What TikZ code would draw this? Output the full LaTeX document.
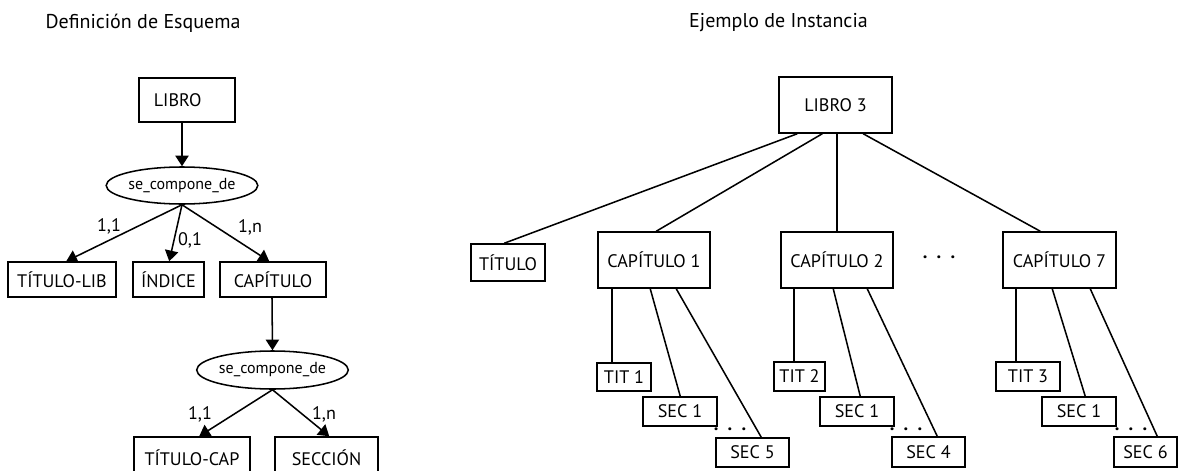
\documentclass[tikz,border=0pt]{standalone}
\usepackage{fontspec}
\setmainfont{PT Sans}
\usetikzlibrary{arrows.meta,shapes.geometric}
\newcommand\pxu{0.75pt}
\tikzset{
  box/.style={draw, line width=1.15pt, inner sep=0pt, font=\fontsize{13.6}{15}\selectfont},
  rel/.style={draw, ellipse, line width=1.15pt, inner sep=0pt, font=\fontsize{12}{13}\selectfont},
  lbl/.style={inner sep=0pt, font=\fontsize{13.6}{15}\selectfont},
  ttl/.style={inner sep=0pt, font=\fontsize{15}{17}\selectfont},
  dots/.style={inner sep=0pt, font=\fontsize{14}{15}\selectfont\bfseries},
  arr/.style={line width=1.15pt, -{Triangle[length=8pt,width=10pt]}},
  con/.style={line width=1.15pt},
}
% [opts]{x1}{y1}{x2}{y2}{name}{text}
\newcommand\bx[7][]{\node[box,#1,minimum width={(#4-#2)*\pxu},minimum height={(#5-#3)*\pxu}] (#6) at ({(#2+#4)/2},{(#3+#5)/2}) {#7};}
\newcommand\dd{.\hspace{7pt}.\hspace{7pt}.}
\begin{document}
\begin{tikzpicture}[x=0.75pt,y=-0.75pt]
\clip (0,0) rectangle (1178,471);
% titles
\node[ttl] (t1) at (143,23) {Definición de Esquema};
\node[ttl] (t2) at (778.5,23) {Ejemplo de Instancia};

% ---------- schema ----------
\bx{139}{78}{235}{122}{libro}{\hspace*{-14pt}LIBRO}
\node[rel,minimum width={150*\pxu},minimum height={37*\pxu}] (e1) at (182,185.5) {se\_compone\_de};
\bx{8}{262}{116}{297}{tlib}{TÍTULO-LIB}
\bx{133}{262}{204}{297}{ind}{ÍNDICE}
\bx{220}{262}{326}{297}{cap}{CAPÍTULO}
\node[rel,minimum width={149*\pxu},minimum height={38*\pxu}] (e2) at (272.5,370) {se\_compone\_de};
\bx{134}{437}{250}{478}{tcap}{TÍTULO-CAP}
\bx{275}{437}{378}{478}{sec}{SECCIÓN}

\draw[arr] ([xshift=-5*\pxu]libro.south) -- (e1.north);
\draw[arr] (e1.south) -- ([xshift=59*\pxu]tlib.north west);
\draw[arr] (e1.south) -- ([xshift=37*\pxu]ind.north west);
\draw[arr] (e1.south) -- ([xshift=50*\pxu]cap.north west);
\draw[arr] ([xshift=-1*\pxu]cap.south) -- (e2.north);
\draw[arr] (e2.south) -- ([xshift=66*\pxu]tcap.north west);
\draw[arr] (e2.south) -- ([xshift=55*\pxu]sec.north west);

\node[lbl] (c1) at (109,226) {1,1};
\node[lbl] (c2) at (190,240) {0,1};
\node[lbl] (c3) at (250,227) {1,n};
\node[lbl] (c4) at (200,414) {1,1};
\node[lbl] (c5) at (324,414) {1,n};

% ---------- instance ----------
\bx{779}{77}{892}{133}{l3}{LIBRO 3}
\bx{471}{244}{545}{281}{tit}{TÍTULO}
\bx{598}{232}{710}{288}{cp1}{CAPÍTULO 1}
\bx{781}{232}{893}{288}{cp2}{CAPÍTULO 2}
\bx{1003}{232}{1116}{288}{cp7}{CAPÍTULO 7}
\node[dots] (d0) at (939,257) {\dd};

\bx{597}{363}{651}{391}{ti1}{TIT 1}
\bx{643}{397}{717}{426}{sa1}{SEC 1}
\bx{716}{438}{789}{467}{s5}{SEC 5}
\bx{774}{362}{825}{391}{ti2}{TIT 2}
\bx{820}{397}{894}{426}{sb1}{SEC 1}
\bx{892}{437}{965}{467}{s4}{SEC 4}
\bx{996}{362}{1060}{391}{ti3}{TIT 3}
\bx{1042}{397}{1116}{426}{sc1}{SEC 1}
\bx{1114}{437}{1177}{467}{s6}{SEC 6}
\node[dots] (d1) at (730,429) {\dd};
\node[dots] (d2) at (906,429) {\dd};
\node[dots] (d3) at (1131,429) {\dd};

\draw[con] ([xshift=19*\pxu]l3.south west) -- ([xshift=34*\pxu]tit.north west);
\draw[con] ([xshift=44*\pxu]l3.south west) -- ([xshift=59*\pxu]cp1.north west);
\draw[con] ([xshift=59*\pxu]l3.south west) -- ([xshift=57*\pxu]cp2.north west);
\draw[con] ([xshift=85*\pxu]l3.south west) -- ([xshift=38*\pxu]cp7.north west);

\draw[con] ([xshift=14.5*\pxu]cp1.south west) -- ([xshift=15.5*\pxu]ti1.north west);
\draw[con] ([xshift=53*\pxu]cp1.south west) -- ([xshift=38*\pxu]sa1.north west);
\draw[con] ([xshift=79*\pxu]cp1.south west) -- ([xshift=46*\pxu]s5.north west);
\draw[con] ([xshift=14*\pxu]cp2.south west) -- ([xshift=21*\pxu]ti2.north west);
\draw[con] ([xshift=53*\pxu]cp2.south west) -- ([xshift=41*\pxu]sb1.north west);
\draw[con] ([xshift=87*\pxu]cp2.south west) -- ([xshift=46*\pxu]s4.north west);
\draw[con] ([xshift=14*\pxu]cp7.south west) -- ([xshift=21*\pxu]ti3.north west);
\draw[con] ([xshift=50*\pxu]cp7.south west) -- ([xshift=44*\pxu]sc1.north west);
\draw[con] ([xshift=88*\pxu]cp7.south west) -- ([xshift=44*\pxu]s6.north west);
\end{tikzpicture}
\end{document}
